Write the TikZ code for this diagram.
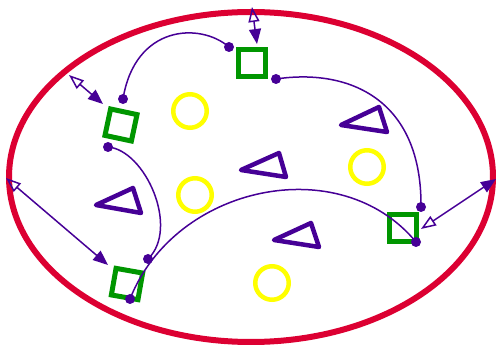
\documentclass[tikz,border=0pt]{standalone}
\usetikzlibrary{arrows.meta}
\definecolor{cred}{RGB}{220,0,50}
\definecolor{cgreen}{RGB}{0,150,0}
\definecolor{cyel}{RGB}{255,255,0}
\definecolor{cpur}{RGB}{70,0,150}
\tikzset{
  sq/.style={draw=cgreen,line width=5pt,minimum size=27pt,inner sep=0pt,shape=rectangle},
  ring/.style={draw=cyel,line width=4.5pt,minimum size=33.5pt,inner sep=0pt,shape=circle},
  tri/.style={draw=cpur,line width=4.5pt,line join=round},
  link/.style={draw=cpur,line width=1.5pt},
  dot/.style={fill=cpur,shape=circle,minimum size=10pt,inner sep=0pt},
  dbl/.style={draw=cpur,line width=1.5pt,{Triangle[open,length=15pt,width=11pt]}-{Triangle[length=15pt,width=12pt]}}
}
\begin{document}
\begin{tikzpicture}[x=1pt,y=-1pt]
\useasboundingbox (0,0) rectangle (496,347);
% outer ellipse
\draw[cred,line width=6pt] (251,177) ellipse [x radius=242, y radius=165];
% green squares
\node[sq] (s1) at (252,63) {};
\node[sq,rotate=-12] (s2) at (121,125) {};
\node[sq,rotate=-10] (s3) at (127,284) {};
\node[sq] (s4) at (403,228) {};
% yellow circles
\node[ring] (c1) at (190,111) {};
\node[ring] (c2) at (195,195) {};
\node[ring] (c3) at (367,167) {};
\node[ring] (c4) at (272,283) {};
% triangles
\draw[tri] (341,125) -- (379,107) -- (387,132) -- cycle;
\draw[tri] (241,170) -- (279,153) -- (286,177) -- cycle;
\draw[tri] (96,205) -- (133,188) -- (141,213) -- cycle;
\draw[tri] (274,240) -- (311,223) -- (319,247) -- cycle;
% dots
\node[dot] (a1) at (229,47) {};
\node[dot] (a2) at (123,99) {};
\node[dot] (b1) at (108,147) {};
\node[dot] (b2) at (148,259) {};
\node[dot] (c1d) at (276,79) {};
\node[dot] (c2d) at (421,207) {};
\node[dot] (d1) at (130,299) {};
\node[dot] (d2) at (416,242) {};
% curves
\draw[link] (a1.center) .. controls (200,22) and (135,25) .. (a2.center);
\draw[link] (b1.center) .. controls (145,150) and (180,228) .. (b2.center);
\draw[link] (c1d.center) .. controls (350,68) and (422,100) .. (c2d.center);
\draw[link] (d1.center) .. controls (175,185) and (340,150) .. (d2.center);
% double arrows
\coordinate (e1) at (252,7);
\coordinate (t1) at (257,44);
\coordinate (e2) at (69,75);
\coordinate (t2) at (103,104);
\coordinate (e3) at (6,178);
\coordinate (t3) at (108,265);
\coordinate (e4) at (421,229);
\coordinate (t4) at (496,179);
\draw[dbl] (e1) -- (t1);
\draw[dbl] (e2) -- (t2);
\draw[dbl] (e3) -- (t3);
\draw[dbl] (e4) -- (t4);
\end{tikzpicture}
\end{document}
